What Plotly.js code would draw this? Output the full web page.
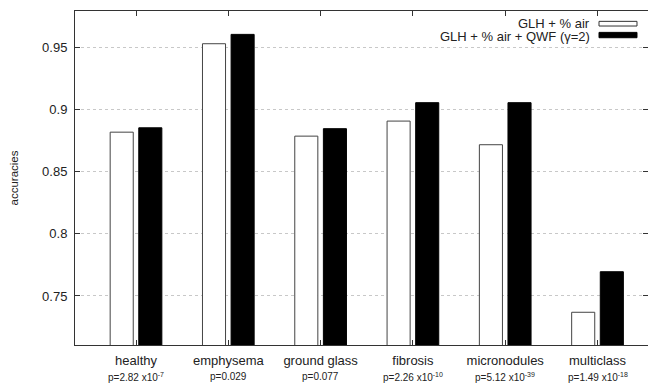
<!DOCTYPE html>
<html>
<head>
<meta charset="utf-8">
<script src="https://cdn.plot.ly/plotly-3.0.1.min.js"></script>
<style>html,body{margin:0;padding:0;background:#fff;}#chart{width:648px;height:383px;}</style>
</head>
<body>
<div id="chart"></div>
<script>
var categories = ["healthy", "emphysema", "ground glass", "fibrosis", "micronodules", "multiclass"];
var pValues = ["p=2.82 x10<sup>-7</sup>", "p=0.029", "p=0.077", "p=2.26 x10<sup>-10</sup>", "p=5.12 x10<sup>-39</sup>", "p=1.49 x10<sup>-18</sup>"];
var seriesNames = ["GLH + % air", "GLH + % air + QWF (\u03b3=2)"];
var glhAir = [0.8817, 0.9528, 0.8785, 0.8906, 0.8716, 0.7369];
var glhAirQwf = [0.8852, 0.9603, 0.8845, 0.9054, 0.9054, 0.7695];
var yTickVals = [0.75, 0.8, 0.85, 0.9, 0.95];
var yTickText = ["0.75", "0.8", "0.85", "0.9", "0.95"];

var idx = categories.map(function(c, i){ return i; });
var font = "Liberation Sans, Arial, Helvetica, sans-serif";

var traces = [
  {type: "bar", x: idx, y: glhAir, name: seriesNames[0], width: 0.25, offset: -0.28,
   marker: {color: "#ffffff", line: {color: "#444", width: 1}}, showlegend: false},
  {type: "bar", x: idx, y: glhAirQwf, name: seriesNames[1], width: 0.25, offset: 0.03,
   marker: {color: "#000000", line: {color: "#000", width: 1}}, showlegend: false}
];

var annotations = idx.map(function(i){
  return {x: i, y: 0, xref: "x", yref: "paper", yanchor: "top", xanchor: "center",
          yshift: -24, text: pValues[i], showarrow: false,
          font: {family: font, size: 10, color: "#222"}};
});
annotations.push({x: 0.9017, y: 0.9625, xref: "paper", yref: "paper", xanchor: "right", yanchor: "middle",
  text: seriesNames[0], showarrow: false, font: {family: font, size: 13, color: "#222"}});
annotations.push({x: 0.9017, y: 0.925, xref: "paper", yref: "paper", xanchor: "right", yanchor: "middle",
  text: seriesNames[1], showarrow: false, font: {family: font, size: 13, color: "#222"}});

var shapes = [
  {type: "rect", xref: "paper", yref: "paper", x0: 0.9145, x1: 0.9808, y0: 0.955, y1: 0.969,
   fillcolor: "#fff", line: {color: "#333", width: 1}},
  {type: "rect", xref: "paper", yref: "paper", x0: 0.9145, x1: 0.9808, y0: 0.920, y1: 0.936,
   fillcolor: "#000", line: {color: "#000", width: 1}}
];

var layout = {
  width: 648, height: 383,
  margin: {l: 75, r: 0, t: 11, b: 38, pad: 0},
  paper_bgcolor: "#fff", plot_bgcolor: "#fff",
  font: {family: font, size: 13, color: "#222"},
  xaxis: {range: [-0.661, 5.547], tickvals: idx, ticktext: categories,
          showline: true, linecolor: "#333", linewidth: 1, mirror: "allticks",
          ticks: "inside", ticklen: 5, tickcolor: "#333", showgrid: false, zeroline: false,
          ticklabelstandoff: 3,
          tickfont: {family: font, size: 13, color: "#222"}},
  yaxis: {range: [0.7106, 0.9791], tickvals: yTickVals, ticktext: yTickText,
          showline: true, linecolor: "#333", linewidth: 1, mirror: "allticks",
          ticks: "inside", ticklen: 5, tickcolor: "#333",
          showgrid: true, gridcolor: "#c8c8c8", griddash: "dot", gridwidth: 1, zeroline: false,
          ticklabelstandoff: 4,
          tickfont: {family: font, size: 13, color: "#222"},
          title: {text: "accuracies", font: {family: font, size: 11.5, color: "#222"}, standoff: 21}},
  annotations: annotations,
  shapes: shapes
};

Plotly.newPlot("chart", traces, layout, {staticPlot: true, displayModeBar: false});
</script>
</body>
</html>
